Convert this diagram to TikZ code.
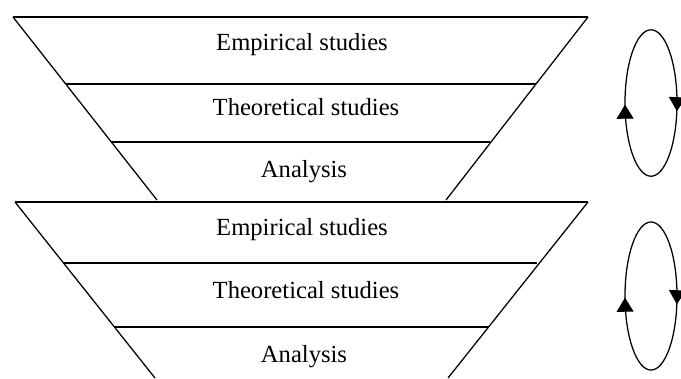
\documentclass[tikz,border=0pt]{standalone}
\usepackage{fontspec}
\setmainfont{Liberation Serif}
\usetikzlibrary{arrows.meta,decorations.markings}

\begin{document}
\begin{tikzpicture}[x=0.025cm,y=-0.025cm,
  rim/.style={line width=1.3pt},
  side/.style={line width=0.9pt},
  stagetext/.style={anchor=base,font=\fontsize{17.5}{19}\selectfont},
  loopring/.style={line width=0.9pt,postaction={decorate},decoration={markings,
    mark=at position 0.505 with {\arrowreversed{Triangle[width=12pt,length=10pt]}},
    mark=at position 0.975 with {\arrowreversed{Triangle[width=12pt,length=10pt]}}}}]
\useasboundingbox (0,0) rectangle (681,378);
% upper funnel
\coordinate (utl) at (13,17); \coordinate (utr) at (588,17);
\coordinate (ubl) at (157,200); \coordinate (ubr) at (446,200);
\draw[rim] (utl)--(utr);
\draw[side] (utl)--(ubl); \draw[side] (utr)--(ubr);
\draw[rim] (66,84)--(536,84);
\draw[rim] (112,142)--(490,142);
\node[stagetext] (uemp) at (302,50) {Empirical studies};
\node[stagetext] (uthe) at (306,115) {Theoretical studies};
\node[stagetext] (uana) at (304,177) {Analysis};
% lower funnel
\coordinate (ltl) at (15,202); \coordinate (ltr) at (588,202);
\coordinate (lbl) at (155,378); \coordinate (lbr) at (448,378);
\draw[rim] (ltl)--(ltr);
\draw[side] (ltl)--(lbl); \draw[side] (ltr)--(lbr);
\draw[rim] (63,263)--(537,263);
\draw[rim] (115,327)--(489,327);
\node[stagetext] (lemp) at (302,235) {Empirical studies};
\node[stagetext] (lthe) at (306,298) {Theoretical studies};
\node[stagetext] (lana) at (304,362) {Analysis};
% cycles
\coordinate (ucyc) at (651,103); \coordinate (lcyc) at (651,296);
\draw[loopring] (ucyc) ellipse [x radius=0.65cm,y radius=1.83cm];
\draw[loopring] (lcyc) ellipse [x radius=0.65cm,y radius=1.85cm];
\end{tikzpicture}
\end{document}
